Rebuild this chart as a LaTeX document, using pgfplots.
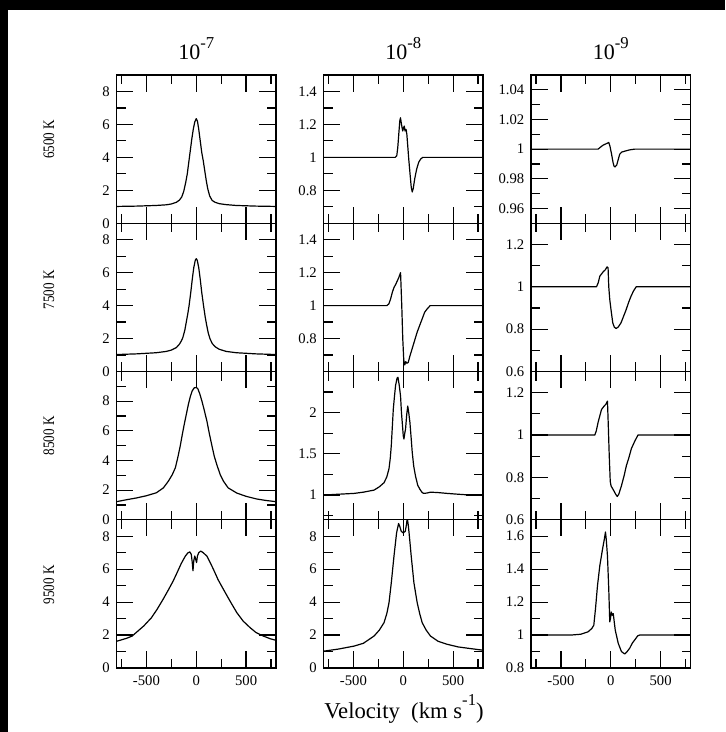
\documentclass[border=0pt]{standalone}
\usepackage{fontspec}
\setmainfont{Liberation Serif}
\usepackage{pgfplots}
\pgfplotsset{compat=1.18}
\pgfplotsset{
  panel/.style={
    scale only axis, width=119.625pt, height=111.1875pt, anchor=north west,
    xmin=-800, xmax=800, xtick={-500,0,500}, minor xtick={-750,-250,250,750},
    xticklabels={,,},
    major tick length=12.5pt, minor tick length=6.75pt,
    tick align=inside,
    axis line style={line width=1.1pt},
    tick style={line width=0.9pt, black},
    tick label style={font=\fontsize{11}{13}\selectfont},
    yticklabel style={xshift=-1.5pt},
    xticklabel style={yshift=-2pt},
    /pgf/number format/assume math mode=true,
  },
  bottomrow/.style={xticklabels={-500,0,500}},
  cA/.style={ymin=0,ymax=9,ytick={0,2,4,6,8},yticklabels={0,2,4,6,8},minor ytick={1,3,5,7,9}},
  curve/.style={black, line width=0.9pt, line join=round},
}
\newcommand{\rowlab}[1]{\scalebox{0.82}[1]{\fontsize{12}{14}\selectfont #1}}
\begin{document}
\begin{tikzpicture}
\useasboundingbox (0,0) rectangle (543.75pt,-549pt);
\fill[black] (0,0) rectangle (543.75pt,-7.5pt);
\fill[black] (0,0) rectangle (6pt,-549pt);

% titles
\node[anchor=base] at (147.19pt,-44.5pt) {\fontsize{16.5}{18}\selectfont 10\raisebox{8.5pt}{\fontsize{12.5}{14}\selectfont -7}};
\node[anchor=base] at (302.44pt,-44.5pt) {\fontsize{16.5}{18}\selectfont 10\raisebox{8.5pt}{\fontsize{12.5}{14}\selectfont -8}};
\node[anchor=base] at (458.06pt,-44.5pt) {\fontsize{16.5}{18}\selectfont 10\raisebox{8.5pt}{\fontsize{12.5}{14}\selectfont -9}};
% row labels
\node[rotate=90] at (36.75pt,-104.6pt) {\rowlab{6500 K}};
\node[rotate=90] at (36.75pt,-217.5pt) {\rowlab{7500 K}};
\node[rotate=90] at (36.75pt,-327pt) {\rowlab{8500 K}};
\node[rotate=90] at (36.75pt,-438.75pt) {\rowlab{9500 K}};
% x label
\node[anchor=base] at (303pt,-538.7pt) {\fontsize{17}{20}\selectfont Velocity\ \ (km s\raisebox{9.5pt}{\fontsize{12.5}{14}\selectfont -1})};

% ===== column 1 : 1e-7 =====
\begin{axis}[panel, cA, at={(87.375pt,-56.25pt)}]
\addplot[curve] coordinates {(-800,1.02) (-600,1.04) (-400,1.08) (-300,1.12) (-250,1.17) (-200,1.27) (-170,1.4) (-145,1.6) (-125,1.95) (-105,2.5) (-90,3.0) (-75,3.7) (-60,4.4) (-45,5.1) (-30,5.7) (-15,6.15) (0,6.35) (12,6.2) (25,5.7) (40,5.0) (55,4.3) (70,3.8) (85,3.2) (100,2.6) (115,2.1) (135,1.65) (160,1.38) (190,1.27) (230,1.19) (300,1.13) (400,1.08) (600,1.04) (800,1.02)};
\end{axis}
\begin{axis}[panel, cA, at={(87.375pt,-167.4375pt)}]
\addplot[curve] coordinates {(-800,1.03) (-600,1.07) (-400,1.14) (-300,1.22) (-250,1.3) (-200,1.45) (-170,1.65) (-150,1.85) (-135,2.05) (-115,2.5) (-100,3.0) (-85,3.5) (-72,4.0) (-55,4.8) (-40,5.6) (-25,6.3) (-10,6.75) (0,6.85) (10,6.75) (25,6.3) (40,5.6) (55,4.8) (73,4.0) (90,3.3) (105,2.8) (120,2.35) (137,2.0) (160,1.7) (190,1.5) (230,1.35) (300,1.22) (400,1.14) (600,1.07) (800,1.03)};
\end{axis}
\begin{axis}[panel, ymin=0,ymax=10,ytick={0,2,4,6,8},yticklabels={0,2,4,6,8},minor ytick={1,3,5,7,9}, at={(87.375pt,-278.625pt)}]
\addplot[curve] coordinates {(-800,1.22) (-700,1.35) (-600,1.47) (-500,1.62) (-400,1.82) (-330,2.15) (-280,2.6) (-240,3.05) (-210,3.5) (-185,4.2) (-160,5.0) (-140,5.75) (-120,6.45) (-100,7.1) (-80,7.75) (-60,8.3) (-40,8.7) (-20,8.9) (0,8.92) (15,8.85) (35,8.5) (57,8.0) (80,7.4) (107,6.65) (130,5.85) (157,5.0) (180,4.3) (207,3.7) (240,3.05) (273,2.6) (320,2.15) (407,1.8) (500,1.58) (607,1.4) (700,1.3) (800,1.22)};
\end{axis}
\begin{axis}[panel, cA, bottomrow, at={(87.375pt,-389.8125pt)}]
\addplot[curve] coordinates {(-800,1.62) (-700,1.8) (-643,1.94) (-527,2.55) (-450,3.05) (-393,3.56) (-330,4.2) (-277,4.77) (-230,5.3) (-193,5.78) (-150,6.35) (-110,6.79) (-85,6.98) (-65,7.05) (-50,6.9) (-40,6.4) (-33,5.9) (-25,6.5) (-15,6.8) (-5,6.6) (3,6.4) (12,6.8) (25,7.0) (45,7.1) (70,7.0) (107,6.79) (140,6.4) (173,5.98) (220,5.35) (273,4.77) (340,4.05) (407,3.36) (470,2.85) (540,2.45) (600,2.15) (673,1.94) (740,1.78) (800,1.68)};
\end{axis}

% ===== column 2 : 1e-8 =====
\begin{axis}[panel, ymin=0.6,ymax=1.5,ytick={0.8,1,1.2,1.4},yticklabels={0.8,1,1.2,1.4},minor ytick={0.7,0.9,1.1,1.3}, at={(242.625pt,-56.25pt)}]
\addplot[curve] coordinates {(-800,1) (-80,1) (-65,1.01) (-55,1.06) (-45,1.14) (-35,1.22) (-28,1.24) (-20,1.21) (-12,1.18) (-5,1.16) (3,1.18) (10,1.19) (18,1.16) (28,1.17) (36,1.14) (45,1.07) (55,0.99) (68,0.9) (80,0.82) (90,0.79) (100,0.81) (115,0.87) (135,0.93) (155,0.97) (175,0.99) (195,1.0) (800,1.0)};
\end{axis}
\begin{axis}[panel, ymin=0.6,ymax=1.5,ytick={0.8,1,1.2,1.4},yticklabels={0.8,1,1.2,1.4},minor ytick={0.7,0.9,1.1,1.3}, at={(242.625pt,-167.4375pt)}]
\addplot[curve] coordinates {(-800,1) (-165,1) (-145,1.01) (-127,1.04) (-110,1.08) (-93,1.11) (-75,1.13) (-60,1.15) (-45,1.17) (-27,1.2) (-15,1.0) (-5,0.8) (5,0.67) (15,0.64) (25,0.66) (35,0.65) (50,0.655) (65,0.69) (90,0.74) (115,0.79) (140,0.84) (165,0.88) (190,0.92) (215,0.96) (240,0.98) (270,1.0) (800,1.0)};
\end{axis}
\begin{axis}[panel, ymin=0.7,ymax=2.5,ytick={1,1.5,2},yticklabels={1,1.5,2},minor ytick={0.75,1.25,1.75,2.25}, at={(242.625pt,-278.625pt)}]
\addplot[curve] coordinates {(-800,1.0) (-650,1.01) (-493,1.02) (-400,1.035) (-293,1.06) (-240,1.1) (-193,1.15) (-165,1.22) (-143,1.32) (-130,1.45) (-120,1.6) (-110,1.82) (-100,2.04) (-88,2.2) (-77,2.33) (-62,2.42) (-53,2.43) (-40,2.33) (-27,2.2) (-18,2.0) (-10,1.88) (0,1.72) (7,1.68) (15,1.75) (23,1.8) (35,1.98) (45,2.08) (55,2.0) (67,1.88) (80,1.68) (90,1.52) (105,1.35) (123,1.23) (145,1.12) (167,1.07) (190,1.03) (207,1.02) (240,1.025) (273,1.035) (350,1.03) (440,1.02) (550,1.01) (673,1.0) (800,1.0)};
\end{axis}
\begin{axis}[panel, cA, bottomrow, at={(242.625pt,-389.8125pt)}]
\addplot[curve] coordinates {(-800,1.02) (-650,1.15) (-493,1.33) (-400,1.5) (-293,1.94) (-240,2.3) (-193,2.75) (-165,3.3) (-143,3.96) (-120,5.17) (-93,6.79) (-67,8.2) (-47,8.77) (-35,8.6) (-20,8.3) (0,8.2) (20,8.3) (32,8.7) (40,9.1) (50,8.7) (60,8.1) (80,6.79) (107,5.17) (140,3.96) (165,3.3) (190,2.75) (230,2.3) (273,1.94) (350,1.62) (440,1.44) (550,1.28) (673,1.18) (800,1.08)};
\end{axis}

% ===== column 3 : 1e-9 =====
\begin{axis}[panel, ymin=0.95,ymax=1.05,ytick={0.96,0.98,1,1.02,1.04},yticklabels={0.96,0.98,1,1.02,1.04},minor ytick={0.97,0.99,1.01,1.03}, at={(398.25pt,-56.25pt)}]
\addplot[curve] coordinates {(-800,1) (-127,1) (-100,1.0015) (-77,1.0027) (-50,1.0035) (-20,1.0045) (-8,1.002) (7,0.997) (23,0.991) (33,0.9885) (43,0.988) (60,0.9893) (75,0.993) (90,0.9966) (110,0.998) (150,0.9988) (190,0.9995) (240,1.0) (800,1.0)};
\end{axis}
\begin{axis}[panel, ymin=0.6,ymax=1.3,ytick={0.6,0.8,1,1.2},yticklabels={0.6,0.8,1,1.2},minor ytick={0.7,0.9,1.1}, at={(398.25pt,-167.4375pt)}]
\addplot[curve] coordinates {(-800,1) (-143,1) (-125,1.02) (-110,1.05) (-77,1.07) (-55,1.08) (-37,1.094) (-27,1.09) (-20,1.0) (-10,0.94) (3,0.89) (20,0.83) (35,0.81) (53,0.803) (75,0.81) (103,0.83) (128,0.86) (153,0.89) (178,0.925) (203,0.955) (228,0.98) (255,1.0) (800,1.0)};
\end{axis}
\begin{axis}[panel, ymin=0.6,ymax=1.3,ytick={0.6,0.8,1,1.2},yticklabels={0.6,0.8,1,1.2},minor ytick={0.7,0.9,1.1}, at={(398.25pt,-278.625pt)}]
\addplot[curve] coordinates {(-800,1) (-160,1) (-145,1.02) (-127,1.06) (-110,1.09) (-93,1.12) (-70,1.135) (-50,1.145) (-33,1.16) (-25,1.05) (-15,0.9) (-5,0.78) (3,0.76) (15,0.75) (33,0.735) (50,0.72) (65,0.71) (80,0.72) (107,0.76) (135,0.81) (157,0.856) (180,0.89) (207,0.936) (240,0.97) (273,1.0) (800,1.0)};
\end{axis}
\begin{axis}[panel, bottomrow, ymin=0.8,ymax=1.7,ytick={0.8,1,1.2,1.4,1.6},yticklabels={0.8,1,1.2,1.4,1.6},minor ytick={0.9,1.1,1.3,1.5}, at={(398.25pt,-389.8125pt)}]
\addplot[curve] coordinates {(-800,1) (-400,1.0) (-300,1.005) (-227,1.02) (-190,1.04) (-170,1.06) (-153,1.16) (-133,1.3) (-110,1.42) (-83,1.52) (-65,1.58) (-53,1.626) (-45,1.58) (-33,1.48) (-20,1.28) (-10,1.08) (-3,1.1) (5,1.14) (15,1.12) (25,1.13) (33,1.09) (45,1.03) (60,0.99) (75,0.95) (107,0.9) (140,0.885) (165,0.9) (190,0.92) (215,0.95) (240,0.97) (270,0.995) (290,1.0) (800,1.0)};
\end{axis}
\end{tikzpicture}
\end{document}
